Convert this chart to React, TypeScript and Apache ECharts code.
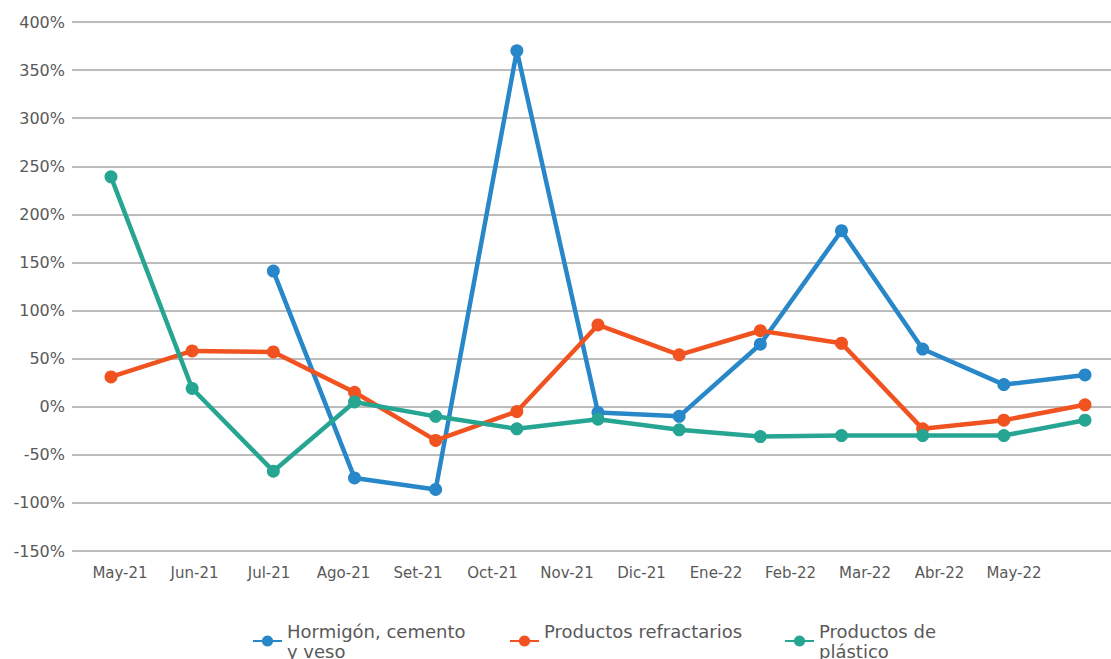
import React, { useEffect, useRef } from "react";
import * as echarts from "echarts";

const categories = ["May-21", "Jun-21", "Jul-21", "Ago-21", "Set-21", "Oct-21", "Nov-21", "Dic-21", "Ene-22", "Feb-22", "Mar-22", "Abr-22", "May-22"];
const hormigon = [null, null, 141, -74, -86, 370, -6, -10, 65, 183, 60, 23, 33];
const refractarios = [31, 58, 57, 15, -35, -5, 85, 54, 79, 66, -23, -14, 2];
const plastico = [239, 19, -67, 5, -10, -23, -13, -24, -31, -30, -30, -30, -14];
const seriesNames = ["Hormigón, cemento y veso", "Productos refractarios", "Productos de plástico"];
const legendLabels = ["Hormigón, cemento\ny veso", "Productos refractarios\n ", "Productos de\nplástico"];
const yMin = -150;
const yMax = 400;
const yStep = 50;

const colors = ["#2787C9", "#F0531F", "#26A593"];
const FONT = "DejaVu Sans";
const TEXT = "#595959";

export default function App() {
  const ref = useRef<HTMLDivElement>(null);
  useEffect(() => {
    if (!ref.current) return;
    const chart = echarts.init(ref.current, undefined, { renderer: "svg" });
    const values = [hormigon, refractarios, plastico];
    const legendLeft = [252, 509, 784];
    chart.setOption({
      animation: false,
      backgroundColor: "#ffffff",
      grid: [
        { left: 72, right: 0, top: 22, bottom: 108 },
        { left: 111, right: 26, top: 22, bottom: 108 },
        { left: 120, right: 97, top: 22, bottom: 108 },
      ],
      xAxis: [
        { type: "category", gridIndex: 0, data: categories, show: false },
        { type: "category", gridIndex: 1, data: categories, boundaryGap: false, show: false },
        {
          type: "category",
          gridIndex: 2,
          data: categories,
          boundaryGap: false,
          axisLine: { show: false },
          axisTick: { show: false },
          axisLabel: { color: TEXT, fontFamily: FONT, fontSize: 15, margin: 14, interval: 0 },
        },
      ],
      yAxis: [
        {
          type: "value",
          gridIndex: 0,
          min: yMin,
          max: yMax,
          interval: yStep,
          axisLine: { show: false },
          axisTick: { show: false },
          axisLabel: { formatter: "{value}%", color: TEXT, fontFamily: FONT, fontSize: 16, margin: 7 },
          splitLine: { lineStyle: { color: "#A6A6A6", width: 1.5 } },
        },
        { type: "value", gridIndex: 1, min: yMin, max: yMax, interval: yStep, show: false, splitLine: { show: false } },
        { type: "value", gridIndex: 2, min: yMin, max: yMax, interval: yStep, show: false, splitLine: { show: false } },
      ],
      legend: seriesNames.map((n, i) => ({
        data: [n],
        left: legendLeft[i],
        top: 611,
        padding: 0,
        itemWidth: 29,
        itemHeight: 14,
        itemGap: 5,
        formatter: () => legendLabels[i],
        textStyle: { color: TEXT, fontFamily: FONT, fontSize: 18, lineHeight: 20, padding: [20, 0, 0, 0] },
      })),
      series: seriesNames.map((n, i) => ({
        name: n,
        type: "line",
        xAxisIndex: 1,
        yAxisIndex: 1,
        data: values[i],
        color: colors[i],
        symbol: "circle",
        symbolSize: 13,
        lineStyle: { width: 4.5, color: colors[i] },
        itemStyle: { color: colors[i] },
        connectNulls: false,
      })),
    });
    return () => chart.dispose();
  }, []);
  return <div ref={ref} style={{ position: "fixed", left: 0, top: 0, width: 1111, height: 659 }} />;
}
